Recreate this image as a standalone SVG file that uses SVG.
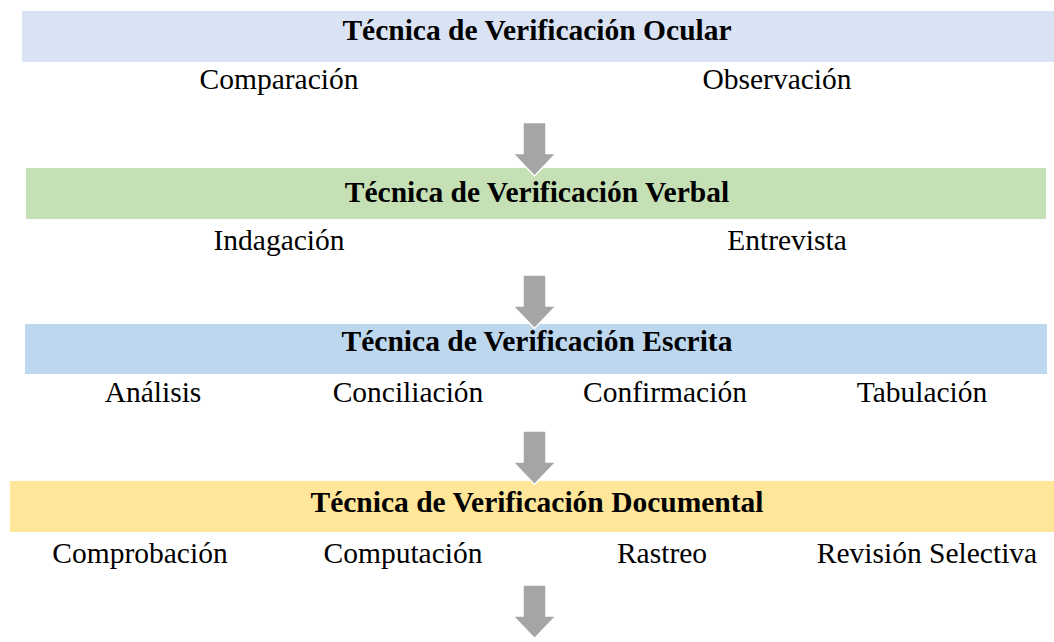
<svg xmlns="http://www.w3.org/2000/svg" width="1054" height="642" viewBox="0 0 1054 642">
<style>
.t{font-family:"Liberation Serif","Times New Roman",serif;font-size:29.5px;font-weight:bold;fill:#000;text-anchor:middle}
.l{font-family:"Liberation Serif","Times New Roman",serif;font-size:29.5px;fill:#000;text-anchor:middle}
.arr{fill:#A5A5A5;stroke:#FFFFFF;stroke-width:1.5;stroke-linejoin:miter}
</style>
<defs>
<path id="arrow" d="M-11.5,0 H11.5 V31 H21.5 L0,53.5 L-21.5,31 H-11.5 Z"/>
</defs>
<rect width="1054" height="642" fill="#FFFFFF"/>
<g id="ocular">
<rect x="22" y="11" width="1032" height="51" fill="#DAE3F3"/>
<text class="t" x="537" y="40">Técnica de Verificación Ocular</text>
<text class="l" x="279" y="89">Comparación</text>
<text class="l" x="777" y="89">Observación</text>
</g>
<g id="verbal">
<rect x="26" y="168" width="1020" height="51" fill="#C5E0B4"/>
<text class="t" x="537" y="202">Técnica de Verificación Verbal</text>
<text class="l" x="279" y="250">Indagación</text>
<text class="l" x="787" y="250">Entrevista</text>
</g>
<g id="escrita">
<rect x="25" y="324" width="1022" height="50" fill="#BDD7EE"/>
<text class="t" x="537" y="351">Técnica de Verificación Escrita</text>
<text class="l" x="153" y="402">Análisis</text>
<text class="l" x="408" y="402">Conciliación</text>
<text class="l" x="665" y="402">Confirmación</text>
<text class="l" x="922" y="402">Tabulación</text>
</g>
<g id="documental">
<rect x="10" y="481" width="1044" height="51" fill="#FFE699"/>
<text class="t" x="537" y="512">Técnica de Verificación Documental</text>
<text class="l" x="140" y="563">Comprobación</text>
<text class="l" x="403" y="563">Computación</text>
<text class="l" x="662" y="563">Rastreo</text>
<text class="l" x="927" y="563">Revisión Selectiva</text>
</g>
<g id="connectors">
<use href="#arrow" class="arr" x="534.5" y="122.5"/>
<use href="#arrow" class="arr" x="534.5" y="275"/>
<use href="#arrow" class="arr" x="534.5" y="431"/>
<use href="#arrow" class="arr" x="534.5" y="585"/>
</g>
</svg>
